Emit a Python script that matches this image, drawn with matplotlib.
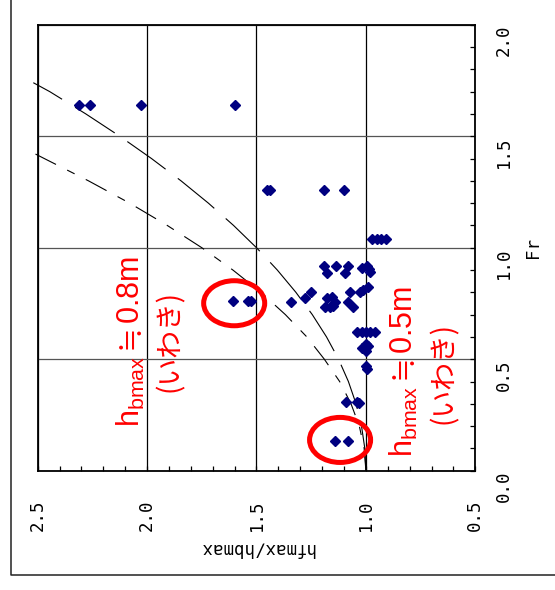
import matplotlib
matplotlib.use('Agg')
import matplotlib.pyplot as plt
from matplotlib.patches import Ellipse
from matplotlib.lines import Line2D
from matplotlib.ticker import MultipleLocator
from matplotlib.transforms import ScaledTranslation

plt.rcParams['lines.scale_dashes'] = False
plt.rcParams['mathtext.fontset'] = 'custom'
plt.rcParams['mathtext.rm'] = 'Liberation Sans'
plt.rcParams['mathtext.fallback'] = 'stix'

# observed points: hfmax/hbmax vs Fr
hf_ratio = [2.31, 2.26, 2.03, 1.60,
            1.45, 1.44, 1.19, 1.10,
            0.97, 0.95, 0.93, 0.91,
            1.19, 1.18, 1.135, 1.08, 1.095, 1.02, 0.995, 0.98, 0.985,
            1.25, 1.28, 1.344, 1.606, 1.54, 1.527,
            1.18, 1.156, 1.141, 1.187, 1.164, 1.149,
            1.073, 1.08, 1.06, 1.027, 1.012, 0.989,
            1.04, 1.02, 1.0, 0.98, 0.96,
            1.0, 1.02, 1.0, 0.99,
            1.0, 0.995,
            1.09, 1.04, 1.03,
            1.14, 1.08]
fr = [1.64, 1.64, 1.64, 1.64,
      1.26, 1.26, 1.26, 1.26,
      1.04, 1.04, 1.04, 1.04,
      0.92, 0.885, 0.92, 0.92, 0.885, 0.91, 0.92, 0.89, 0.905,
      0.803, 0.775, 0.758, 0.761, 0.761, 0.761,
      0.773, 0.78, 0.758, 0.733, 0.733, 0.739,
      0.803, 0.758, 0.733, 0.803, 0.81, 0.825,
      0.623, 0.623, 0.623, 0.623, 0.623,
      0.57, 0.55, 0.535, 0.56,
      0.47, 0.455,
      0.31, 0.31, 0.305,
      0.135, 0.135]

# reference curves
curve1_fr = [0.0, 0.1, 0.2, 0.3, 0.4, 0.5, 0.6, 0.7, 0.8, 0.9, 1.0,
             1.1, 1.2, 1.3, 1.4, 1.5, 1.6, 1.7, 1.74]
curve1_hf = [1.00, 1.005, 1.02, 1.045, 1.08, 1.125, 1.18, 1.245, 1.32, 1.405, 1.50,
             1.605, 1.72, 1.845, 1.98, 2.125, 2.28, 2.445, 2.52]
curve2_fr = [0.0, 0.1, 0.2, 0.3, 0.4, 0.5, 0.6, 0.7, 0.8, 0.9, 1.0,
             1.1, 1.2, 1.3, 1.4, 1.42]
curve2_hf = [1.00, 1.008, 1.03, 1.068, 1.12, 1.19, 1.27, 1.368, 1.48, 1.608, 1.75,
             1.908, 2.08, 2.268, 2.47, 2.51]

hf_ticks = [2.5, 2.0, 1.5, 1.0, 0.5]
fr_ticks = [0.0, 0.5, 1.0, 1.5, 2.0]

fig = plt.figure(figsize=(5.55, 5.9), dpi=100)
ax = fig.add_axes([0.0679, 0.2022, 0.7885, 0.7559])

# outer frame
W, H = 555, 590
fig.add_artist(Line2D([11 / W, 11 / W, 1.0], [1.0, 1 - 575 / H, 1 - 575 / H],
                      transform=fig.transFigure, color='#222222', lw=1.1))

ax.plot(curve1_hf, curve1_fr, color='black', lw=0.8, dashes=(34, 11), clip_on=False)
ax.plot(curve2_hf, curve2_fr, color='black', lw=0.8, dashes=(17, 9, 6, 9), clip_on=False)
ax.plot(hf_ratio, fr, linestyle='none', marker='D', ms=5.6,
        color='#000080', mec='#000080', zorder=5)

ax.set_xlim(2.5, 0.5)
ax.set_ylim(0.0, 2.0)

ax.xaxis.set_major_locator(MultipleLocator(0.5))
ax.xaxis.set_minor_locator(MultipleLocator(0.1))
ax.yaxis.set_major_locator(MultipleLocator(0.5))
ax.yaxis.set_minor_locator(MultipleLocator(0.1))
ax.set_xticks(hf_ticks)
ax.set_yticks(fr_ticks)
ax.set_xticklabels([f'{v:.1f}' for v in hf_ticks])
ax.set_yticklabels([f'{v:.1f}' for v in fr_ticks])

ax.yaxis.tick_right()
ax.tick_params(which='both', direction='in', length=3.8, width=0.9, color='black',
               top=False, left=False, bottom=True, right=True)
ax.tick_params(axis='x', which='major', pad=21, labelsize=12.5, labelrotation=90)
ax.tick_params(axis='y', which='major', pad=14, labelsize=12.5, labelrotation=90)
for lbl in ax.get_xticklabels() + ax.get_yticklabels():
    lbl.set_family('DejaVu Sans Mono')
# Fr labels sit a little below their ticks
for lbl in ax.yaxis.get_ticklabels():
    lbl.set_transform(lbl.get_transform() + ScaledTranslation(0, -7 / 100, fig.dpi_scale_trans))

ax.grid(axis='x', which='major', color='black', lw=0.9)
ax.grid(axis='y', which='major', color='#555555', lw=0.9)
for s in ax.spines.values():
    s.set_linewidth(1.3)
    s.set_color('black')

ax.set_xlabel('hfmax/hbmax', family='DejaVu Sans Mono', fontsize=12.5, rotation=180)
ax.xaxis.set_label_coords(0.5, -0.155)
ax.yaxis.set_label_position('right')
ax.set_ylabel('Fr', family='DejaVu Sans Mono', fontsize=12.5, rotation=90)
ax.yaxis.set_label_coords(1.111, 0.5)

# highlighted points
for cx, cy in [(1.602, 0.751), (1.118, 0.138)]:
    ax.add_patch(Ellipse((cx, cy), 0.279, 0.202, fill=False, ec='red', lw=3.6, zorder=6))

red = 'red'
cjk = ['Noto Sans CJK JP', 'DejaVu Sans']
ax.text(2.032, 0.578, r'h$_{\mathregular{bmax}}\fallingdotseq$0.8m', color=red, fontsize=22,
        family='Liberation Sans', rotation=90, rotation_mode='anchor',
        ha='center', va='baseline')
ax.text(1.859, 0.581, '(いわき)', color=red, fontsize=20, family=cjk, rotation=90,
        rotation_mode='anchor', ha='center', va='baseline')
ax.text(0.785, 0.443, r'h$_{\mathregular{bmax}}\fallingdotseq$0.5m', color=red, fontsize=22,
        family='Liberation Sans', rotation=90, rotation_mode='anchor',
        ha='center', va='baseline')
ax.text(0.606, 0.438, '(いわき)', color=red, fontsize=20, family=cjk, rotation=90,
        rotation_mode='anchor', ha='center', va='baseline')

fig.savefig('out.png', dpi=100)
